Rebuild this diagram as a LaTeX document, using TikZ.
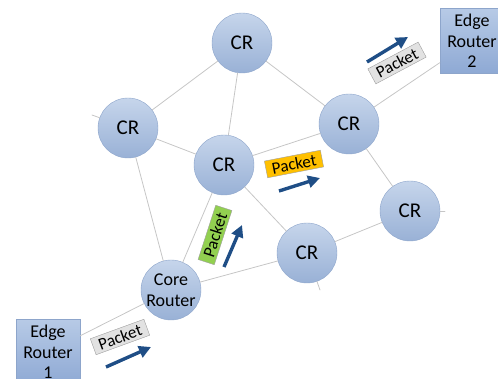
\documentclass[tikz,border=0pt]{standalone}
\usepackage{fontspec}
\setmainfont{Carlito}
\usetikzlibrary{arrows.meta}
\definecolor{crtop}{HTML}{C6D5EB}
\definecolor{crbot}{HTML}{99B1D6}
\definecolor{crline}{HTML}{8DA5CB}
\definecolor{ertop}{HTML}{B7CAE6}
\definecolor{erbot}{HTML}{8EA9D4}
\definecolor{flowblue}{HTML}{1F4E86}
\definecolor{pktgray}{HTML}{E2E2E2}
\definecolor{pktorange}{HTML}{FFC000}
\definecolor{pktgreen}{HTML}{92D050}

\begin{document}
\begin{tikzpicture}[x=1pt,y=-1pt,line cap=round,
  cr/.style={circle,minimum size=60pt,inner sep=0pt,draw=crline,top color=crtop,bottom color=crbot,font=\fontsize{21}{22}\selectfont},
  er/.style={rectangle,minimum width=64pt,minimum height=65pt,inner sep=0pt,draw=crline,top color=ertop,bottom color=erbot,align=center,font=\fontsize{18}{20.5}\selectfont},
  link/.style={draw=gray!45,line width=0.8pt},
  pkt/.style={draw=gray!75,minimum width=57pt,minimum height=17pt,inner sep=1pt,font=\fontsize{17}{17}\selectfont},
  flow/.style={-{Triangle[length=12pt,width=12pt]},line width=3.4pt,draw=flowblue,line cap=butt}]
\useasboundingbox (0,0) rectangle (498,379);
% routers
\node[cr] (crT) at (242,43) {CR};
\node[cr] (crL) at (128,128) {CR};
\node[cr] (crC) at (224,165) {CR};
\node[cr] (crR) at (349,124) {CR};
\node[cr] (crF) at (410,211) {CR};
\node[cr] (crD) at (307,253) {CR};
\node[cr,align=center,font=\fontsize{18}{20.5}\selectfont] (core) at (171,290) {Core\\Router};
\node[er] (edge1) at (48,352) {Edge\\Router\\1};
\node[er] (edge2) at (472,41) {Edge\\Router\\2};
\coordinate (stubL) at (92,115);
\coordinate (stubR) at (445,211);
\coordinate (stubD) at (320,290);
% links
\draw[link] (crT) -- (crL);
\draw[link] (crT) -- (crC);
\draw[link] (crT) -- (crR);
\draw[link] (crL) -- (crC);
\draw[link] (crL) -- (stubL);
\draw[link] (crL) -- (core);
\draw[link] (crC) -- (crR);
\draw[link] (crC) -- (core);
\draw[link] (crC) -- (crD);
\draw[link] (crR) -- (crF);
\draw[link] (crR) -- (edge2);
\draw[link] (crF) -- (stubR);
\draw[link] (crF) -- (crD);
\draw[link] (crD) -- (stubD);
\draw[link] (crD) -- (core);
\draw[link] (core) -- (edge1);
% packets
\node[pkt,fill=pktgray,rotate=20] (p1) at (120,337) {Packet};
\node[pkt,fill=pktgreen,rotate=72] (p2) at (215,235) {Packet};
\node[pkt,fill=pktorange,rotate=11] (p3) at (294,164) {Packet};
\node[pkt,fill=pktgray,rotate=28] (p4) at (397,63) {Packet};
\coordinate (a1s) at (106,367); \coordinate (a1e) at (151,347);
\coordinate (a2s) at (224,267); \coordinate (a2e) at (242,225);
\coordinate (a3s) at (279,191); \coordinate (a3e) at (320,178);
\coordinate (a4s) at (367,62);  \coordinate (a4e) at (408,37);
\draw[flow] (a1s) -- (a1e);
\draw[flow] (a2s) -- (a2e);
\draw[flow] (a3s) -- (a3e);
\draw[flow] (a4s) -- (a4e);
\end{tikzpicture}
\end{document}
